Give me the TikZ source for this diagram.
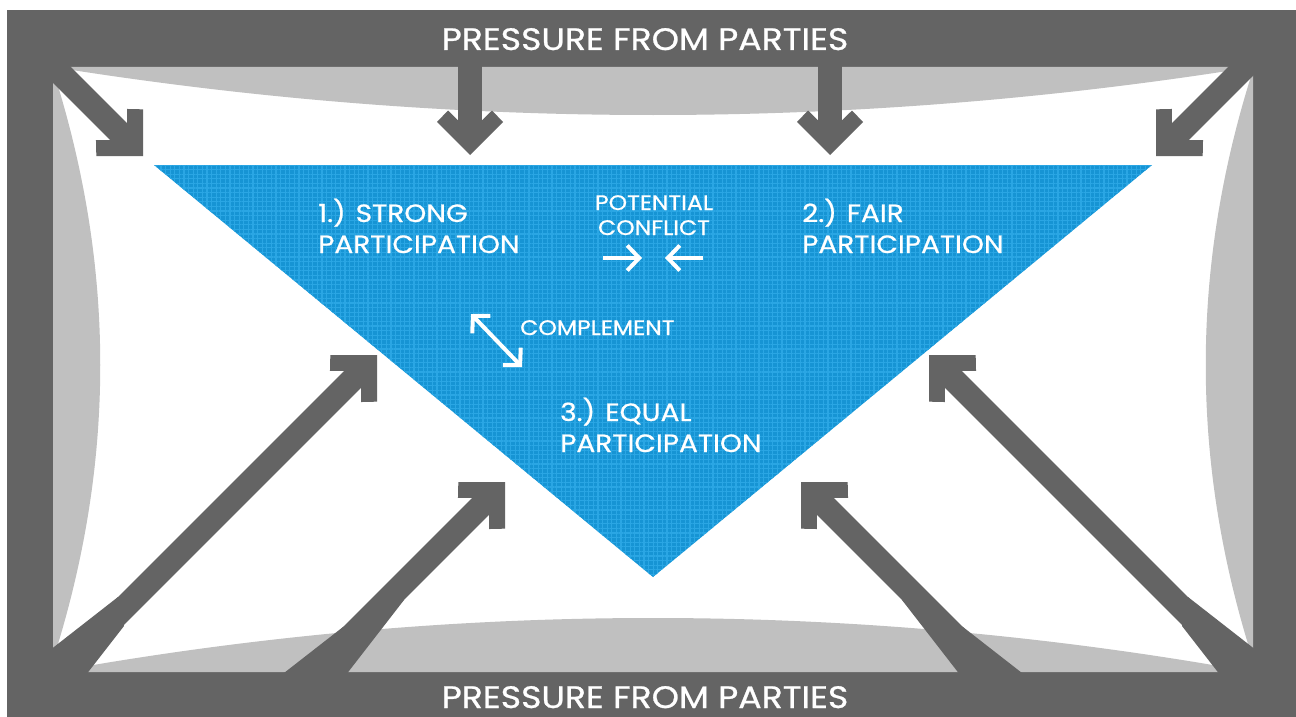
\documentclass[tikz,border=0pt]{standalone}
\usepackage{fontspec}
\usetikzlibrary{arrows.meta,patterns.meta}
\newfontfamily\tagfont{Poppins}[FakeStretch=1.12,FakeBold=0.8]
\definecolor{FrameGrey}{RGB}{100,100,100}
\definecolor{CushionGrey}{RGB}{192,192,192}
\definecolor{FieldBlue}{RGB}{22,148,212}
\definecolor{GridBlue}{RGB}{42,166,228}

\tikzset{
  pushshaft/.style={draw=FrameGrey,line width=24pt,shorten >=22pt},
  push head/.pic={
    \fill[FrameGrey] (0,0) -- (-33,-33) -- (-44.5,-22) -- (-22.6,0)
      -- (-44.5,22) -- (-33,33) -- cycle;
  },
  cushion/.style={fill=CushionGrey},
  cue/.style={draw=white,line width=4pt,
    arrows={-Straight Barb[length=12pt,width=25pt]}},
  bigtag/.style={text=white,inner sep=0pt,align=left,anchor=base west,
    font=\tagfont\fontsize{25}{31}\selectfont},
  smalltag/.style={text=white,inner sep=0pt,
    font=\tagfont\fontsize{21}{25}\selectfont},
  bartag/.style={text=white,inner sep=0pt,anchor=base,
    font=\tagfont\fontsize{31}{40}\selectfont}
}

\begin{document}
\begin{tikzpicture}[x=1pt,y=-1pt]
  \useasboundingbox (0,0) rectangle (1296,717);
  \fill[white] (0,0) rectangle (1296,717);
  % frame and inner field
  \fill[FrameGrey] (7,10) rectangle (1296,717);
  \fill[white] (53,67) rectangle (1253,672);
  % pressed-in cushions
  \fill[cushion] (53,67) .. controls (453,131) and (853,131) .. (1253,67) -- cycle;
  \fill[cushion] (53,672) .. controls (453,600) and (853,600) .. (1253,672) -- cycle;
  \fill[cushion] (53,70) .. controls (116,267) and (116,463) .. (53,660) -- cycle;
  \fill[cushion] (1253,70) .. controls (1190,267) and (1190,463) .. (1253,660) -- cycle;

  % participation triangle
  \fill[FieldBlue] (154,165) -- (1152,165) -- (653,577) -- cycle;
  \fill[pattern={Hatch[angle=0,distance=4.6pt,line width=1.2pt]},
    pattern color=GridBlue] (154,165) -- (1152,165) -- (653,577) -- cycle;

  % arrows from the top
  \coordinate (tl base) at (40,53);   \coordinate (tl tip) at (143,156);
  \coordinate (tr base) at (1265,47); \coordinate (tr tip) at (1156,156);
  \coordinate (t1 base) at (470,40);  \coordinate (t1 tip) at (470,155);
  \coordinate (t2 base) at (830,40);  \coordinate (t2 tip) at (830,155);
  \draw[pushshaft] (tl base) -- (tl tip);
  \draw[pushshaft] (tr base) -- (tr tip);
  \draw[pushshaft] (t1 base) -- (t1 tip);
  \draw[pushshaft] (t2 base) -- (t2 tip);
  \pic[rotate=-45] at (tl tip) {push head};
  \pic[rotate=-135] at (tr tip) {push head};
  \pic[rotate=-90] at (t1 tip) {push head};
  \pic[rotate=-90] at (t2 tip) {push head};

  % arrows from the bottom, widening at the foot
  \coordinate (bl1 base) at (100,632); \coordinate (bl1 tip) at (377,355);
  \coordinate (bl2 base) at (330,657); \coordinate (bl2 tip) at (505,482);
  \coordinate (br1 base) at (1206,632); \coordinate (br1 tip) at (929,355);
  \coordinate (br2 base) at (976,657); \coordinate (br2 tip) at (801,482);
  \fill[FrameGrey] (118,597) -- (45,654) -- (45,680) -- (82,680) -- (124,626) -- cycle;
  \fill[FrameGrey] (343,627) -- (275,680) -- (342,680) -- (404,600) -- cycle;
  \fill[FrameGrey] (1188,597) -- (1261,654) -- (1261,680) -- (1224,680) -- (1182,626) -- cycle;
  \fill[FrameGrey] (963,627) -- (1031,680) -- (964,680) -- (902,600) -- cycle;
  \draw[pushshaft] (bl1 base) -- (bl1 tip);
  \draw[pushshaft] (bl2 base) -- (bl2 tip);
  \draw[pushshaft] (br1 base) -- (br1 tip);
  \draw[pushshaft] (br2 base) -- (br2 tip);
  \pic[rotate=45] at (bl1 tip) {push head};
  \pic[rotate=45] at (bl2 tip) {push head};
  \pic[rotate=135] at (br1 tip) {push head};
  \pic[rotate=135] at (br2 tip) {push head};

  % labels (base = last line)
  \node[bartag] (top bar) at (645,50) {PRESSURE FROM PARTIES};
  \node[bartag] (bottom bar) at (645,708) {PRESSURE FROM PARTIES};
  \node[bigtag] (strong) at (318,253) {1.) STRONG\\PARTICIPATION};
  \node[bigtag] (fair) at (802,253) {2.) FAIR\\PARTICIPATION};
  \node[bigtag] (equal) at (560,452) {3.) EQUAL\\PARTICIPATION};
  \node[smalltag,align=center,anchor=base] (conflict) at (654,235)
    {POTENTIAL\\CONFLICT};
  \node[smalltag,anchor=base west] (complement) at (520,335) {COMPLEMENT};

  % conflict and complement cues
  \coordinate (c1 from) at (603,258); \coordinate (c1 to) at (642,258);
  \coordinate (c2 from) at (703,258); \coordinate (c2 to) at (665,258);
  \coordinate (m1) at (471,314);      \coordinate (m2) at (522,367);
  \draw[cue] (c1 from) -- (c1 to);
  \draw[cue] (c2 from) -- (c2 to);
  \draw[cue,arrows={Straight Barb[length=12pt,width=25pt]-Straight Barb[length=12pt,width=25pt]}]
    (m1) -- (m2);
\end{tikzpicture}
\end{document}
